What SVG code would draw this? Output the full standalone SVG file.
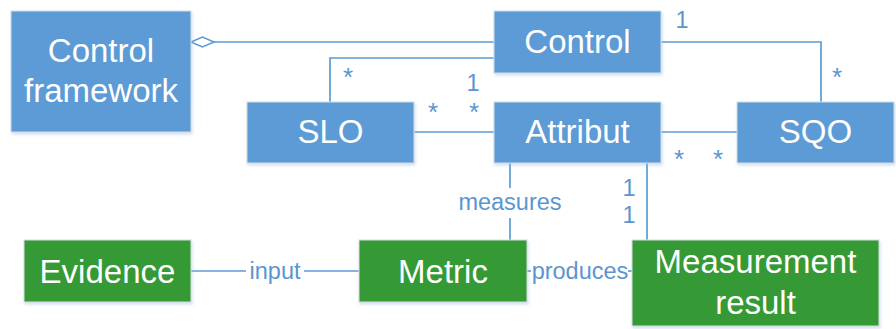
<svg xmlns="http://www.w3.org/2000/svg" width="896" height="329" viewBox="0 0 896 329">
  <defs>
    <filter id="sh" x="-5%" y="-5%" width="115%" height="120%">
      <feDropShadow dx="1" dy="2" stdDeviation="1.5" flood-color="#9fb8d8" flood-opacity="0.45"/>
    </filter>
  </defs>
  <style>
    .box { stroke: #d6dde6; stroke-width: 1; filter: url(#sh); }
    .blue { fill: #5B9BD5; }
    .green { fill: #359A35; }
    .t { font-family: "Liberation Sans", Arial, sans-serif; font-size: 33px; fill: #ffffff; text-anchor: middle; }
    .line { stroke: #5B9BD5; stroke-width: 1.7; fill: none; }
    .lbl { font-family: "Liberation Sans", Arial, sans-serif; font-size: 23.5px; fill: #5b95d0; text-anchor: middle; }
    .mul { font-family: "Liberation Sans", Arial, sans-serif; font-size: 26px; fill: #5b95d0; text-anchor: middle; }
  </style>

  <!-- connectors -->
  <g id="connectors">
    <!-- aggregation: Control framework - Control -->
    <line class="line" x1="214" y1="42" x2="494" y2="42"/>
    <polygon points="191,42 202.5,37 214,42 202.5,47" fill="#ffffff" stroke="#5B9BD5" stroke-width="1.6"/>
    <!-- Control - SLO -->
    <polyline class="line" points="494,58 330,58 330,102"/>
    <!-- Control - SQO -->
    <polyline class="line" points="661,42 821,42 821,102"/>
    <!-- SLO - Attribut -->
    <line class="line" x1="414" y1="132" x2="494" y2="132"/>
    <!-- Attribut - SQO -->
    <line class="line" x1="661" y1="132" x2="737" y2="132"/>
    <!-- Attribut - Metric (measures) -->
    <line class="line" x1="510" y1="163" x2="510" y2="188"/>
    <line class="line" x1="510" y1="218" x2="510" y2="240"/>
    <!-- Attribut - Measurement result -->
    <line class="line" x1="647" y1="163" x2="647" y2="240"/>
    <!-- Evidence - Metric (input) -->
    <line class="line" x1="191" y1="271" x2="246" y2="271"/>
    <line class="line" x1="304" y1="271" x2="359" y2="271"/>
    <!-- Metric - Measurement result (produces) -->
    <line class="line" x1="527" y1="271" x2="531" y2="271"/>
    <line class="line" x1="628" y1="271" x2="632" y2="271"/>

    <!-- association labels -->
    <text class="lbl" x="510" y="210">measures</text>
    <text class="lbl" x="275" y="279">input</text>
    <text class="lbl" x="580" y="279">produces</text>

    <!-- multiplicities -->
    <text class="mul" x="348" y="86">*</text>
    <text class="lbl" x="473" y="91">1</text>
    <text class="mul" x="433" y="121">*</text>
    <text class="mul" x="474" y="121">*</text>
    <text class="lbl" x="682" y="28">1</text>
    <text class="mul" x="837" y="86">*</text>
    <text class="mul" x="679" y="168">*</text>
    <text class="mul" x="718" y="168">*</text>
    <text class="lbl" x="629" y="196">1</text>
    <text class="lbl" x="629" y="223">1</text>
  </g>

  <!-- nodes -->
  <g id="control-framework">
    <rect class="box blue" x="11" y="11" width="180" height="121"/>
    <text class="t" x="101" y="62">Control</text>
    <text class="t" x="101" y="102">framework</text>
  </g>
  <g id="control">
    <rect class="box blue" x="494" y="11" width="167" height="62"/>
    <text class="t" x="577.5" y="53">Control</text>
  </g>
  <g id="slo">
    <rect class="box blue" x="247" y="102" width="167" height="61"/>
    <text class="t" x="330.5" y="143">SLO</text>
  </g>
  <g id="attribut">
    <rect class="box blue" x="494" y="102" width="167" height="61"/>
    <text class="t" x="577.5" y="143">Attribut</text>
  </g>
  <g id="sqo">
    <rect class="box blue" x="737" y="102" width="157" height="61"/>
    <text class="t" x="815.5" y="143">SQO</text>
  </g>
  <g id="evidence">
    <rect class="box green" x="24" y="240" width="167" height="62"/>
    <text class="t" x="107.5" y="283">Evidence</text>
  </g>
  <g id="metric">
    <rect class="box green" x="359" y="240" width="168" height="62"/>
    <text class="t" x="443" y="283">Metric</text>
  </g>
  <g id="measurement-result">
    <rect class="box green" x="632" y="240" width="247" height="86"/>
    <text class="t" x="755.5" y="273">Measurement</text>
    <text class="t" x="755.5" y="314">result</text>
  </g>
</svg>
